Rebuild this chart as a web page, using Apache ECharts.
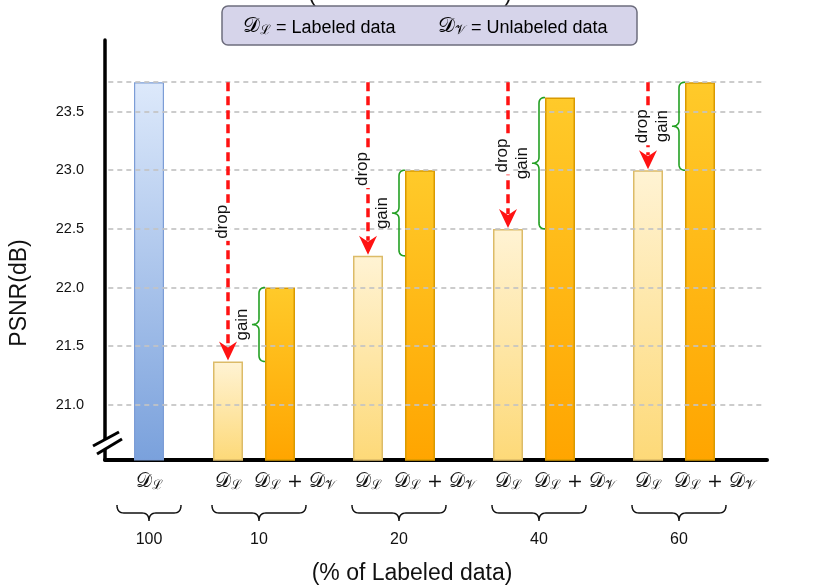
<!DOCTYPE html>
<html><head><meta charset="utf-8">
<script src="https://cdn.jsdelivr.net/npm/echarts@6/dist/echarts.min.js"></script>
<style>html,body{margin:0;padding:0;background:#fff}#c{width:831px;height:585px}</style>
</head><body><div id="c"></div>
<script>
// ---------------- data ----------------
const groupFull = ['100'];                 // % labeled, single-bar group
const fullLabeled = [23.75];               // PSNR with 100% labeled data
const pairGroups = ['10', '20', '40', '60']; // % labeled
const labeledOnly = [21.37, 22.27, 22.50, 23.00];          // D_L
const labeledPlusUnlabeled = [22.00, 23.00, 23.62, 23.75]; // D_L + D_U
const yTicks = [21.0, 21.5, 22.0, 22.5, 23.0, 23.5];
const gridValues = [21.0, 21.5, 22.0, 22.5, 23.0, 23.5, 23.75];
const yMin = 20.53, yMax = 24.11;

// ---------------- styles ----------------
const FONT = 'Liberation Sans, Arial, sans-serif';
const MATHF = 'DejaVu Serif, serif';
const rich = {
  d: {fontSize: 20, fontFamily: MATHF, color: '#111', verticalAlign: 'bottom', lineHeight: 24},
  s: {fontSize: 13, fontFamily: MATHF, color: '#111', verticalAlign: 'bottom', lineHeight: 24},
  p: {fontSize: 19, fontFamily: MATHF, color: '#111', verticalAlign: 'bottom', lineHeight: 24}
};
const LBL_L = '{d|𝒟}{s|ℒ}';
const LBL_LU = '{d|𝒟}{s|ℒ}{p| + }{d|𝒟}{s|𝒱}';

function grad(top, bottom) {
  return new echarts.graphic.LinearGradient(0, 0, 0, 1, [{offset: 0, color: top}, {offset: 1, color: bottom}]);
}

const hiddenY = (gi) => ({type: 'value', gridIndex: gi, min: yMin, max: yMax, show: false});
const catX = (gi, data, fmt, pad) => ({
  type: 'category', gridIndex: gi, data: data,
  axisLine: {show: false}, axisTick: {show: false}, splitLine: {show: false},
  axisLabel: {margin: 8, interval: 0, hideOverlap: false, formatter: () => fmt, rich: rich, padding: pad || 0}
});

const option = {
  animation: false,
  backgroundColor: '#fff',
  grid: [
    {left: 105, top: 40, width: 662, height: 420, outerBoundsMode: 'none'},
    {left: 105, top: 40, width: 88, height: 420, outerBoundsMode: 'none'},
    {left: 158, top: 40, width: 560, height: 420, outerBoundsMode: 'none'},
    {left: 210, top: 40, width: 560, height: 420, outerBoundsMode: 'none'}
  ],
  xAxis: [
    {type: 'value', gridIndex: 0, min: 0, max: 1,
     axisLine: {show: true, lineStyle: {color: '#000', width: 4}},
     axisTick: {show: false}, axisLabel: {show: false}, splitLine: {show: false}},
    catX(1, groupFull, LBL_L),
    catX(2, pairGroups, LBL_L),
    catX(3, pairGroups, LBL_LU, [0, 0, 0, 30])
  ],
  yAxis: [
    {type: 'value', gridIndex: 0, min: yMin, max: yMax,
     axisLine: {show: true, lineStyle: {color: '#000', width: 3.5}},
     axisTick: {show: false}, splitLine: {show: false},
     axisLabel: {customValues: yTicks, margin: 21, fontSize: 14.5, fontFamily: FONT, color: '#111',
                 formatter: v => Number(v).toFixed(1)}},
    hiddenY(1), hiddenY(2), hiddenY(3)
  ],
  series: [
    {type: 'bar', xAxisIndex: 1, yAxisIndex: 1, data: fullLabeled, barWidth: 30, z: 2,
     itemStyle: {color: grad('#dde9fb', '#7aa1dc'), borderColor: '#7c9dd6', borderWidth: 1.2}},
    {type: 'bar', xAxisIndex: 2, yAxisIndex: 2, data: labeledOnly, barWidth: 30, z: 2,
     itemStyle: {color: grad('#fff3d4', '#fdd978'), borderColor: '#dcbb68', borderWidth: 1.5}},
    {type: 'bar', xAxisIndex: 3, yAxisIndex: 3, data: labeledPlusUnlabeled, barWidth: 30, z: 2,
     itemStyle: {color: grad('#ffca2a', '#ffa500'), borderColor: '#d99a00', borderWidth: 1.5}},
    {type: 'line', xAxisIndex: 0, yAxisIndex: 0, data: [], z: 5, silent: true,
     markLine: {silent: true, symbol: ['none', 'none'], label: {show: false},
       lineStyle: {color: 'rgba(195,195,195,0.85)', type: [5, 4], width: 1.8},
       emphasis: {disabled: true},
       data: gridValues.map(v => [{coord: [0.005, v]}, {coord: [0.992, v]}])}}
  ]
};

const chart = echarts.init(document.getElementById('c'), null, {renderer: 'canvas'});
chart.setOption(option);

// ---------------- annotations derived from the axes ----------------
const px = (ax, cat, v) => chart.convertToPixel({xAxisIndex: ax, yAxisIndex: ax}, [cat, v]);
const RED = '#ff1212', GREEN = '#23a023';
const g = [];

// sample a quadratic bezier into points
function quad(p0, c, p1, out) {
  for (let k = 1; k <= 8; k++) {
    const t = k / 8, u = 1 - t;
    out.push([u * u * p0[0] + 2 * u * t * c[0] + t * t * p1[0], u * u * p0[1] + 2 * u * t * c[1] + t * t * p1[1]]);
  }
}
function vBracePts(xr, y1, y2) {
  const xs = xr - 6, xp = xr - 13, ym = (y1 + y2) / 2, r = Math.min(6, (y2 - y1) / 4);
  const pts = [[xr, y1]];
  quad([xr, y1], [xs, y1], [xs, y1 + r], pts);
  pts.push([xs, ym - r]);
  quad([xs, ym - r], [xs, ym], [xp, ym], pts);
  quad([xp, ym], [xs, ym], [xs, ym + r], pts);
  pts.push([xs, y2 - r]);
  quad([xs, y2 - r], [xs, y2], [xr, y2], pts);
  return pts;
}
function hBracePts(x1, x2, xm, y0) {
  const ys = y0 + 8, yp = y0 + 16, r = 7;
  const pts = [[x1, y0]];
  quad([x1, y0], [x1, ys], [x1 + r, ys], pts);
  pts.push([xm - r, ys]);
  quad([xm - r, ys], [xm, ys], [xm, yp], pts);
  quad([xm, yp], [xm, ys], [xm + r, ys], pts);
  pts.push([x2 - r, ys]);
  quad([x2 - r, ys], [x2, ys], [x2, y0], pts);
  return pts;
}

const axisY = px(2, pairGroups[0], yMin)[1];
const braceY = axisY + 45, numY = axisY + 80;

// group 100
{
  const [xc] = px(1, groupFull[0], fullLabeled[0]);
  g.push({type: 'polyline', shape: {points: hBracePts(xc - 32, xc + 32, xc, braceY)},
          style: {stroke: '#111', lineWidth: 1.5, fill: null}});
  g.push({type: 'text', x: xc, y: numY, style: {text: groupFull[0], font: `16px ${FONT}`, fill: '#111', align: 'center', verticalAlign: 'middle'}});
}

pairGroups.forEach((cat, i) => {
  const [xL, yL] = px(2, cat, labeledOnly[i]);
  const [, yTop] = px(2, cat, fullLabeled[0]);
  const [xU, yU] = px(3, cat, labeledPlusUnlabeled[i]);
  // drop arrow
  g.push({type: 'line', z: 10, shape: {x1: xL, y1: yTop, x2: xL, y2: yL - 15},
          style: {stroke: RED, lineWidth: 3.5, lineDash: [9, 5]}});
  g.push({type: 'polygon', z: 10, shape: {points: [[xL, yL - 1], [xL - 9, yL - 20], [xL, yL - 14], [xL + 9, yL - 20]]},
          style: {fill: RED}});
  g.push({type: 'text', z: 11, x: xL - 6, y: (yTop + yL) / 2, rotation: Math.PI / 2,
          style: {text: 'drop', font: `17px ${FONT}`, fill: '#111', align: 'center', verticalAlign: 'middle',
                  backgroundColor: '#fff', padding: [0, 2]}});
  // gain brace
  const xr = xU - 15;
  g.push({type: 'polyline', z: 10, shape: {points: vBracePts(xr, yU, yL)},
          style: {stroke: GREEN, lineWidth: 1.6, fill: null}});
  g.push({type: 'text', z: 11, x: xr - 23, y: (yU + yL) / 2, rotation: Math.PI / 2,
          style: {text: 'gain', font: `17px ${FONT}`, fill: '#111', align: 'center', verticalAlign: 'middle'}});
  // group brace + number
  const xm = (xL + xU) / 2 + 5;
  g.push({type: 'polyline', shape: {points: hBracePts(xm - 47, xm + 47, xm, braceY)},
          style: {stroke: '#111', lineWidth: 1.5, fill: null}});
  g.push({type: 'text', x: xm, y: numY, style: {text: cat, font: `16px ${FONT}`, fill: '#111', align: 'center', verticalAlign: 'middle'}});
});

// axis titles
g.push({type: 'text', x: 20, y: 293, rotation: Math.PI / 2,
        style: {text: 'PSNR(dB)', font: `23px ${FONT}`, fill: '#111', align: 'center', verticalAlign: 'middle'}});
g.push({type: 'text', x: 412, y: 574,
        style: {text: '(% of Labeled data)', font: `23px ${FONT}`, fill: '#111', align: 'center', verticalAlign: 'middle'}});

// axis break marks
g.push({type: 'polygon', z: 20, shape: {points: [[93, 446], [119, 432], [122, 439], [97, 454]]}, style: {fill: '#fff'}});
g.push({type: 'line', z: 21, shape: {x1: 93, y1: 446, x2: 119, y2: 432}, style: {stroke: '#000', lineWidth: 3}});
g.push({type: 'line', z: 21, shape: {x1: 97, y1: 454, x2: 122, y2: 439}, style: {stroke: '#000', lineWidth: 3}});

// legend box
g.push({type: 'text', x: 312, y: 6, style: {text: '(', font: `23px ${FONT}`, fill: '#111', align: 'center', verticalAlign: 'bottom'}});
g.push({type: 'text', x: 508, y: 6, style: {text: ')', font: `23px ${FONT}`, fill: '#111', align: 'center', verticalAlign: 'bottom'}});
g.push({type: 'rect', z: 30, shape: {x: 222, y: 6, width: 415, height: 39, r: 6},
        style: {fill: '#d6d4ea', stroke: '#6d6d7d', lineWidth: 1.5}});
const legRich = {
  d: {fontSize: 21, fontFamily: MATHF, color: '#111', verticalAlign: 'bottom', lineHeight: 24},
  s: {fontSize: 13, fontFamily: MATHF, color: '#111', verticalAlign: 'bottom', lineHeight: 24},
  t: {fontSize: 18, fontFamily: FONT, color: '#111', verticalAlign: 'bottom', lineHeight: 24}
};
g.push({type: 'text', z: 31, x: 243, y: 25, style: {text: '{d|𝒟}{s|ℒ}{t| = Labeled data}', rich: legRich, verticalAlign: 'middle'}});
g.push({type: 'text', z: 31, x: 438, y: 25, style: {text: '{d|𝒟}{s|𝒱}{t| = Unlabeled data}', rich: legRich, verticalAlign: 'middle'}});

chart.setOption({graphic: g});
</script></body></html>
